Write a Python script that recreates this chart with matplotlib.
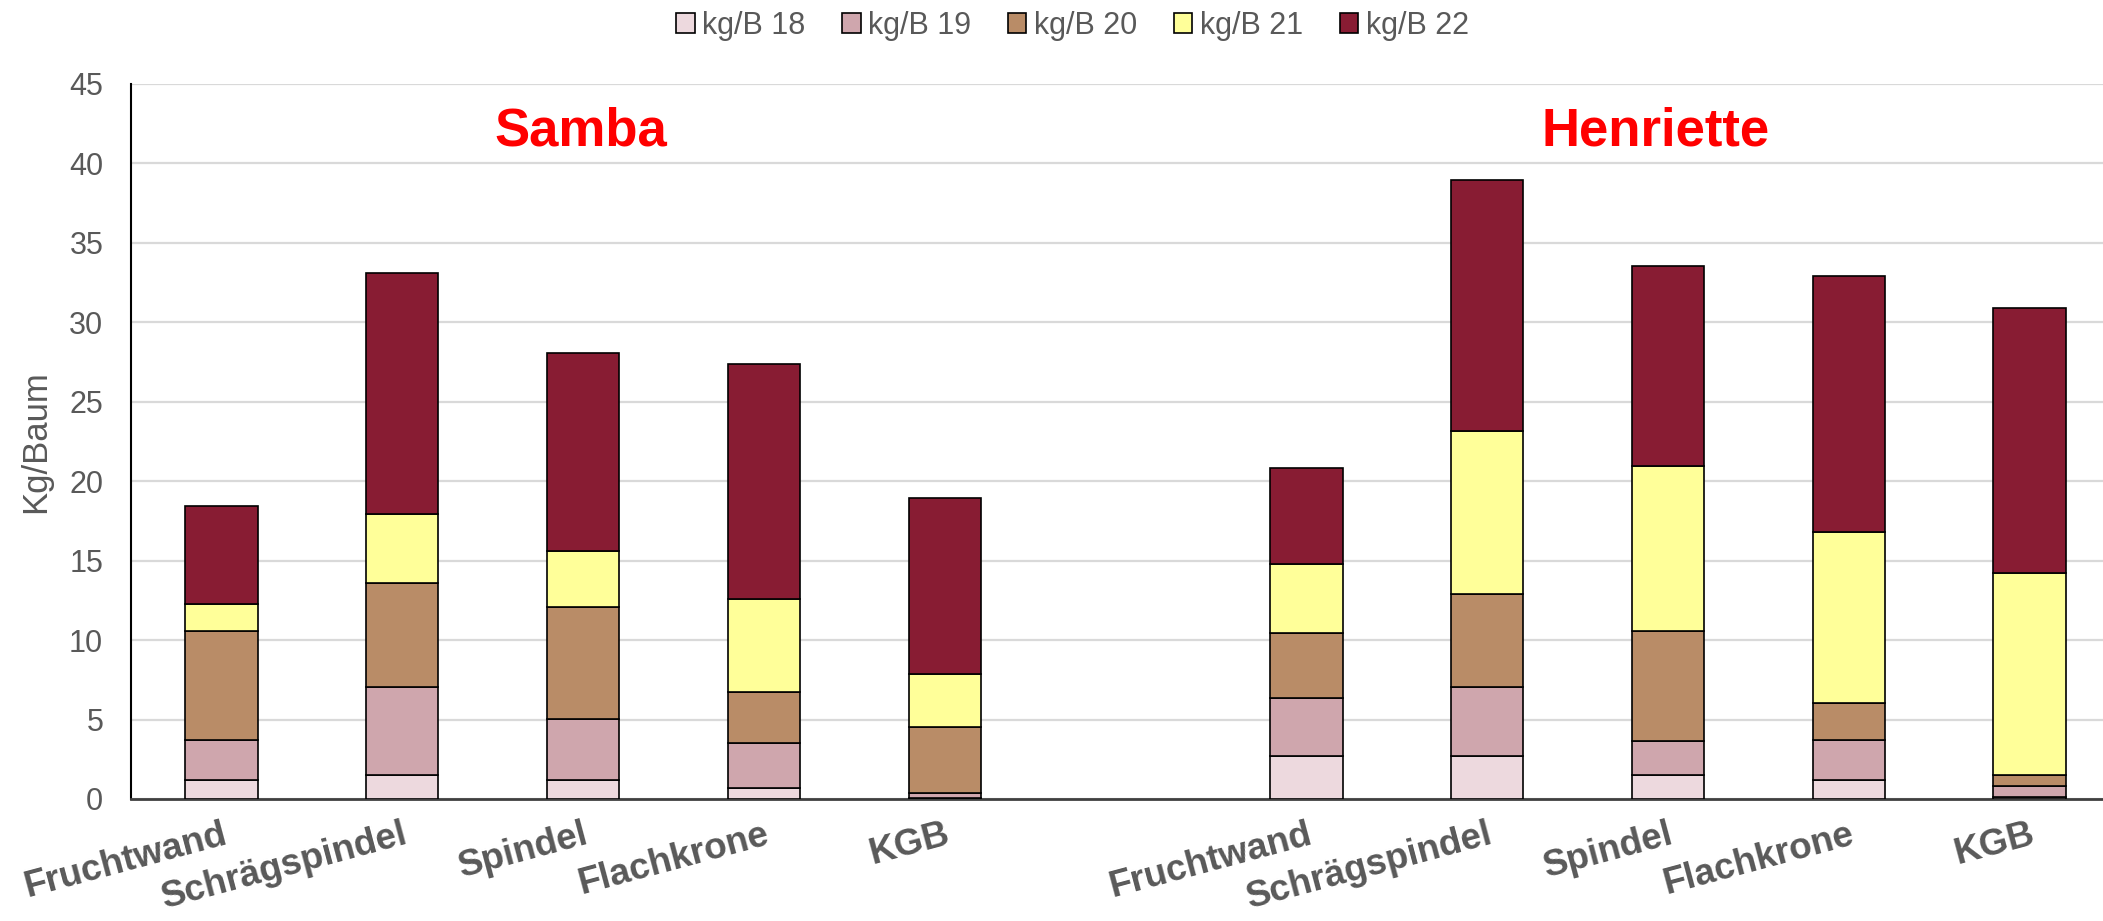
import matplotlib
matplotlib.use('Agg')
import matplotlib.pyplot as plt
import numpy as np

plt.rcParams['font.family'] = ['Liberation Sans', 'DejaVu Sans']

# categories (two varieties, one empty slot between them)
systems = ['Fruchtwand', 'Schrägspindel', 'Spindel', 'Flachkrone', 'KGB']
varieties = ['Samba', 'Henriette']
series = ['kg/B 18', 'kg/B 19', 'kg/B 20', 'kg/B 21', 'kg/B 22']
colors = ['#EDD9DE', '#CFA6AD', '#B98C67', '#FFFF99', '#881C33']

# kg per tree, per year
samba_18 = [1.2, 1.53, 1.2, 0.67, 0.05]
samba_19 = [2.5, 5.54, 3.86, 2.88, 0.3]
samba_20 = [6.9, 6.53, 7.04, 3.18, 4.2]
samba_21 = [1.65, 4.36, 3.53, 5.86, 3.34]
samba_22 = [6.2, 15.12, 12.42, 14.79, 11.07]

henr_18 = [2.71, 2.71, 1.53, 1.17, 0.15]
henr_19 = [3.67, 4.34, 2.14, 2.52, 0.69]
henr_20 = [4.05, 5.87, 6.9, 2.35, 0.69]
henr_21 = [4.34, 10.24, 10.41, 10.74, 12.71]
henr_22 = [6.04, 15.77, 12.58, 16.13, 16.68]

samba = [samba_18, samba_19, samba_20, samba_21, samba_22]
henr = [henr_18, henr_19, henr_20, henr_21, henr_22]

labels = systems + [''] + systems
x = np.arange(len(labels))
pos = np.concatenate([x[:5], x[6:]])

fig = plt.figure(figsize=(21.03, 9.21), dpi=100)
ax = fig.add_axes([0.0623, 0.1325, 0.9458, 0.7763])

bottom = np.zeros(10)
for name, col, s, h in zip(series, colors, samba, henr):
    vals = np.array(s + h)
    ax.bar(pos, vals, 0.4, bottom=bottom, color=col, edgecolor='black',
           linewidth=1.2, label=name, zorder=3)
    bottom += vals

ax.set_xlim(-0.5, 10.5)
ax.set_ylim(0, 45)
ax.set_yticks(range(0, 46, 5))
ax.yaxis.grid(True, color='#D9D9D9', linewidth=1.6, zorder=0)
ax.set_axisbelow(True)
for sp in ['top', 'right']:
    ax.spines[sp].set_visible(False)
ax.spines['left'].set_color('black')
ax.spines['left'].set_linewidth(1.5)
ax.spines['bottom'].set_color('#404040')
ax.spines['bottom'].set_linewidth(2)
ax.tick_params(length=0, labelsize=22, labelcolor='#595959')
ax.tick_params(axis='y', pad=20)

ax.set_xticks(x)
ax.set_xticklabels(labels, rotation=15, ha='right', rotation_mode='anchor',
                   fontsize=26.5, fontweight='bold', color='#595959')
ax.tick_params(axis='x', pad=13)

ax.set_ylabel('Kg/Baum', fontsize=25, color='#595959')
ax.yaxis.set_label_coords(-0.0397, 0.5)

ax.text(1.99, 42, varieties[0], ha='center', va='center', fontsize=38,
        fontweight='bold', color='red')
ax.text(7.93, 42, varieties[1], ha='center', va='center', fontsize=38,
        fontweight='bold', color='red')

leg = fig.legend(loc='center', bbox_to_anchor=(0.51, 0.972), ncol=5,
                 frameon=False, fontsize=22, handlelength=0.6,
                 handleheight=0.6, handletextpad=0.25, columnspacing=1.2)
for t in leg.get_texts():
    t.set_color('#595959')

plt.savefig('out.png', dpi=100)
